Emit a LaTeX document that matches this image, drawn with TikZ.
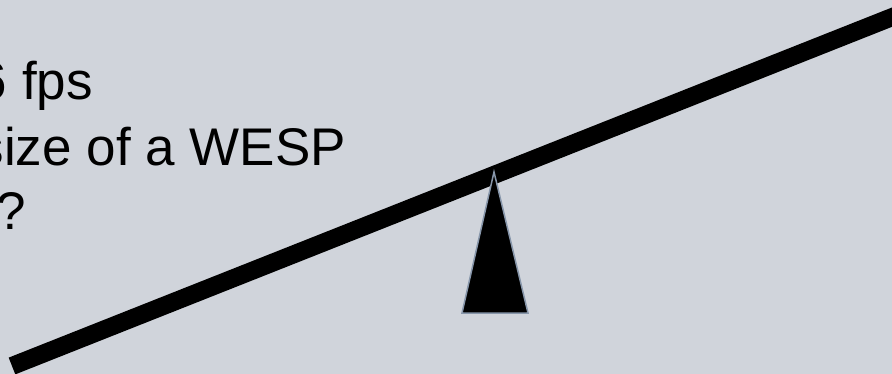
\documentclass[tikz,border=0pt]{standalone}
\usepackage{fontspec}
\setmainfont{Liberation Sans}
\definecolor{bg}{RGB}{208,212,219}
\definecolor{edge}{RGB}{135,150,170}
\tikzset{
  txt/.style={anchor=base east, inner sep=0pt, font=\fontsize{53}{64}\selectfont, text=black},
  beam/.style={line width=18pt, black},
  fulcrum/.style={fill=black, draw=edge, line width=1.5pt, line join=miter}
}
\begin{document}
\begin{tikzpicture}[x=1pt,y=-1pt]
\useasboundingbox (0,0) rectangle (892,374);
\fill[bg] (0,0) rectangle (892,374);
\node[txt] (l1) at (93,100) {6 fps};
\node[txt] (l2) at (346,166) {size of a WESP};
\node[txt] (l3) at (26,230) {?};
\coordinate (bl) at (12,366);
\coordinate (br) at (905,12);
\draw[beam] (bl) -- (br);
\coordinate (apex) at (494,172);
\coordinate (b1) at (462,313);
\coordinate (b2) at (528,313);
\draw[fulcrum] (apex) -- (b2) -- (b1) -- cycle;
\end{tikzpicture}
\end{document}
